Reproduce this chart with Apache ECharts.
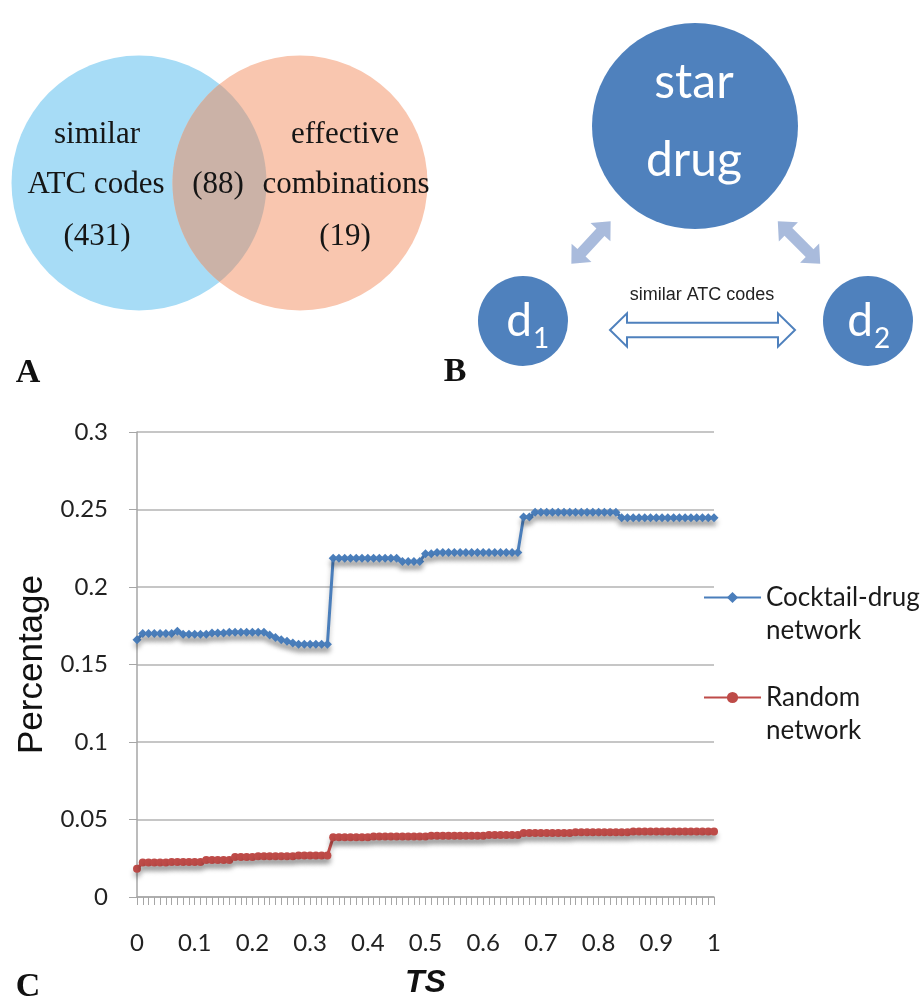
<!DOCTYPE html>
<html>
<head>
<meta charset="utf-8">
<script src="https://cdn.jsdelivr.net/npm/echarts@6/dist/echarts.min.js"></script>
<style>
html,body{margin:0;padding:0;background:#fff;}
#chart{width:921px;height:1003px;}
</style>
</head>
<body>
<div id="chart"></div>
<script>
// ---- Panel C data ----
var tickLabels = ['0','0.1','0.2','0.3','0.4','0.5','0.6','0.7','0.8','0.9','1'];
var yTicks = [0, 0.05, 0.1, 0.15, 0.2, 0.25, 0.3];
var seriesNames = ['Cocktail-drug network', 'Random network'];

var cocktailValues = [
  0.166,
  0.170,0.170,0.170,0.170,0.170,0.170,
  0.1715,
  0.1695,0.1695,0.1695,0.1695,0.1695,
  0.1703,0.1703,0.1703,
  0.1708,0.1708,0.1708,0.1708,0.1708,0.1708,0.1708,
  0.169,0.1675,0.166,0.165,0.1638,
  0.163,0.163,0.163,0.163,0.163,0.163,
  0.2186,0.2186,0.2186,0.2186,0.2186,0.2186,0.2186,0.2186,0.2186,0.2186,0.2186,0.2186,
  0.2165,0.2165,0.2165,0.2165,
  0.2215,0.2215,
  0.2222,0.2222,0.2222,0.2222,0.2222,0.2222,0.2222,0.2222,0.2222,0.2222,0.2222,0.2222,0.2222,0.2222,0.2222,
  0.2451,0.2451,
  0.2483,0.2483,0.2483,0.2483,0.2483,0.2483,0.2483,0.2483,0.2483,0.2483,0.2483,0.2483,0.2483,0.2483,0.2483,
  0.2447,0.2447,0.2447,0.2447,0.2447,0.2447,0.2447,0.2447,0.2447,0.2447,0.2447,0.2447,0.2447,0.2447,0.2447,0.2447,0.2447
];

var randomValues = [
  0.0183,
  0.0222,0.0222,0.0222,0.0222,0.0222,
  0.0226,0.0226,0.0226,0.0226,0.0226,0.0226,
  0.0239,0.0239,0.0239,0.0239,0.0239,
  0.0258,0.0258,0.0258,0.0258,
  0.0263,0.0263,0.0263,0.0263,0.0263,0.0263,0.0263,
  0.0268,0.0268,0.0268,0.0268,0.0268,0.0268,
  0.0385,0.0385,0.0385,0.0385,0.0385,0.0385,0.0385,
  0.0390,0.0390,0.0390,0.0390,0.0390,0.0390,0.0390,0.0390,0.0390,0.0390,
  0.0395,0.0395,0.0395,0.0395,0.0395,0.0395,0.0395,0.0395,0.0395,0.0395,
  0.0400,0.0400,0.0400,0.0400,0.0400,0.0400,
  0.0413,0.0413,0.0413,0.0413,0.0413,0.0413,0.0413,0.0413,0.0413,
  0.0418,0.0418,0.0418,0.0418,0.0418,0.0418,0.0418,0.0418,0.0418,0.0418,
  0.0423,0.0423,0.0423,0.0423,0.0423,0.0423,0.0423,0.0423,0.0423,0.0423,0.0423,0.0423,0.0423,0.0423,0.0423
];

// TS categories 0, 0.01, ..., 1 (axis positions, one per point)
var categories = [];
for (var i = 0; i < cocktailValues.length; i++) { categories.push((i / 100).toFixed(2)); }

// ---- Panel A (Venn) texts ----
var vennLeft = ['similar', 'ATC codes', '(431)'];
var vennMid = '(88)';
var vennRight = ['effective', 'combinations', '(19)'];

var chart = echarts.init(document.getElementById('chart'), null, {renderer: 'canvas'});

var SERIF = '"Liberation Serif", "DejaVu Serif", serif';
var SANS = '"Liberation Sans", Arial, sans-serif';
var LATO = 'Lato, "Open Sans", sans-serif';

function txt(text, x, y, size, family, fill, extra) {
  var st = {text: text, x: x, y: y, fontSize: size, fontFamily: family, fill: fill, align: 'center', verticalAlign: 'middle'};
  if (extra) { for (var k in extra) st[k] = extra[k]; }
  return {type: 'text', z: 10, style: st};
}

function dblArrow(cx, cy, rot, half, headLen, shaftHalf, headHalf, style) {
  var a = half, b = half - headLen;
  return {
    type: 'polygon', x: cx, y: cy, rotation: rot, z: 5,
    shape: {points: [[-a,0],[-b,-headHalf],[-b,-shaftHalf],[b,-shaftHalf],[b,-headHalf],[a,0],[b,headHalf],[b,shaftHalf],[-b,shaftHalf],[-b,headHalf]]},
    style: style
  };
}

// Venn lens (intersection of the two circles) as polygon outline
var C1 = [139, 183], C2 = [300, 183], R = 127.5;
function lensPoints() {
  var d = C2[0] - C1[0];
  var half = Math.acos((d / 2) / R);
  var pts = [], n = 60, k, t;
  for (k = 0; k <= n; k++) {
    t = -half + 2 * half * k / n;
    pts.push([C1[0] + R * Math.cos(t), C1[1] + R * Math.sin(t)]);
  }
  for (k = 0; k <= n; k++) {
    t = Math.PI - half + 2 * half * k / n;
    pts.push([C2[0] + R * Math.cos(t), C2[1] + R * Math.sin(t)]);
  }
  return pts;
}

var graphics = [
  // Venn
  {type: 'circle', z: 1, shape: {cx: C1[0], cy: C1[1], r: R}, style: {fill: '#a7dcf6'}},
  {type: 'circle', z: 2, shape: {cx: C2[0], cy: C2[1], r: R}, style: {fill: '#f9c6af'}},
  {type: 'polygon', z: 3, shape: {points: lensPoints()}, style: {fill: '#cbb2a7'}},
  txt(vennLeft[0], 97, 135, 31, SERIF, '#151515'),
  txt(vennLeft[1], 96, 185, 31, SERIF, '#151515'),
  txt(vennLeft[2], 97, 237, 31, SERIF, '#151515'),
  txt(vennMid, 218, 185, 31, SERIF, '#151515'),
  txt(vennRight[0], 345, 135, 31, SERIF, '#151515'),
  txt(vennRight[1], 346, 185, 31, SERIF, '#151515'),
  txt(vennRight[2], 345, 237, 31, SERIF, '#151515'),
  // Panel labels
  txt('A', 28, 373, 34, SERIF, '#111', {fontWeight: 'bold'}),
  txt('B', 455, 372, 34, SERIF, '#111', {fontWeight: 'bold'}),
  txt('C', 28, 987, 34, SERIF, '#111', {fontWeight: 'bold'}),
  // Panel B
  {type: 'circle', z: 1, shape: {cx: 695, cy: 126, r: 103}, style: {fill: '#4f81bd'}},
  txt('star', 694, 83, 48, LATO, '#ffffff'),
  txt('drug', 694, 161, 48, LATO, '#ffffff'),
  {type: 'circle', z: 1, shape: {cx: 523, cy: 321, r: 45}, style: {fill: '#4f81bd'}},
  {type: 'circle', z: 1, shape: {cx: 868, cy: 321, r: 45}, style: {fill: '#4f81bd'}},
  txt('d', 532, 344, 46, LATO, '#ffffff', {align: 'right', verticalAlign: 'bottom'}),
  txt('1', 533, 353, 28, LATO, '#ffffff', {align: 'left', verticalAlign: 'bottom'}),
  txt('d', 873, 344, 46, LATO, '#ffffff', {align: 'right', verticalAlign: 'bottom'}),
  txt('2', 874, 353, 28, LATO, '#ffffff', {align: 'left', verticalAlign: 'bottom'}),
  dblArrow(591, 242.5, 0.827, 29, 15, 5.5, 13.5, {fill: '#a9bbdc'}),
  dblArrow(799, 242.5, -0.785, 30, 15, 5.5, 13.5, {fill: '#a9bbdc'}),
  dblArrow(702.5, 330, 0, 92.5, 17, 7.3, 16.7, {fill: '#ffffff', stroke: '#4f81bd', lineWidth: 2}),
  txt('similar ATC codes', 702, 295, 18, SANS, '#222')
];

var shadow = {shadowColor: 'rgba(0,0,0,0.25)', shadowBlur: 5, shadowOffsetY: 5};

var option = {
  animation: false,
  backgroundColor: '#ffffff',
  grid: {left: 137, right: 207, top: 432, bottom: 106, containLabel: false},
  legend: {
    orient: 'vertical',
    left: 703,
    top: 548,
    padding: 0,
    itemGap: 1,
    itemWidth: 57,
    itemHeight: 14,
    data: seriesNames,
    formatter: function (name) { return '\n' + name.replace(' ', '\n'); },
    textStyle: {fontFamily: LATO, fontSize: 26, lineHeight: 33, color: '#1a1a1a'}
  },
  xAxis: {
    type: 'category',
    data: categories,
    boundaryGap: false,
    axisLine: {lineStyle: {color: '#a6a6a6', width: 1.5}},
    axisTick: {show: true, interval: 0, length: 8, lineStyle: {color: '#a6a6a6', width: 1}},
    axisLabel: {
      interval: function (index) { return index % 10 === 0; },
      formatter: function (value, index) { return tickLabels[Math.round(index / 10)]; },
      fontFamily: LATO, fontSize: 24, color: '#222', margin: 34
    },
    splitLine: {show: false},
    name: 'TS',
    nameLocation: 'middle',
    nameGap: 70,
    nameTextStyle: {fontFamily: SANS, fontWeight: 'bold', fontStyle: 'italic', fontSize: 32, color: '#111'}
  },
  yAxis: {
    type: 'value',
    min: yTicks[0],
    max: yTicks[yTicks.length - 1],
    interval: 0.05,
    axisLine: {show: true, lineStyle: {color: '#a6a6a6', width: 1.5}},
    axisTick: {show: true, length: 8, lineStyle: {color: '#a6a6a6'}},
    splitLine: {show: true, lineStyle: {color: '#b3b3b3', width: 1.5}},
    axisLabel: {fontFamily: LATO, fontSize: 24, color: '#222', margin: 29},
    name: 'Percentage',
    nameLocation: 'middle',
    nameGap: 84,
    nameTextStyle: {fontFamily: SANS, fontSize: 35, color: '#111'}
  },
  series: [
    {
      name: seriesNames[0], type: 'line', data: cocktailValues,
      symbol: 'diamond', symbolSize: 9, showAllSymbol: true,
      lineStyle: Object.assign({color: '#4a7ebb', width: 3}, shadow),
      itemStyle: Object.assign({color: '#4a7ebb'}, shadow),
      z: 3
    },
    {
      name: seriesNames[1], type: 'line', data: randomValues,
      symbol: 'circle', symbolSize: 8, showAllSymbol: true,
      lineStyle: Object.assign({color: '#be4b48', width: 3}, shadow),
      itemStyle: Object.assign({color: '#be4b48'}, shadow),
      z: 3
    }
  ],
  graphic: graphics
};

chart.setOption(option);
</script>
</body>
</html>
